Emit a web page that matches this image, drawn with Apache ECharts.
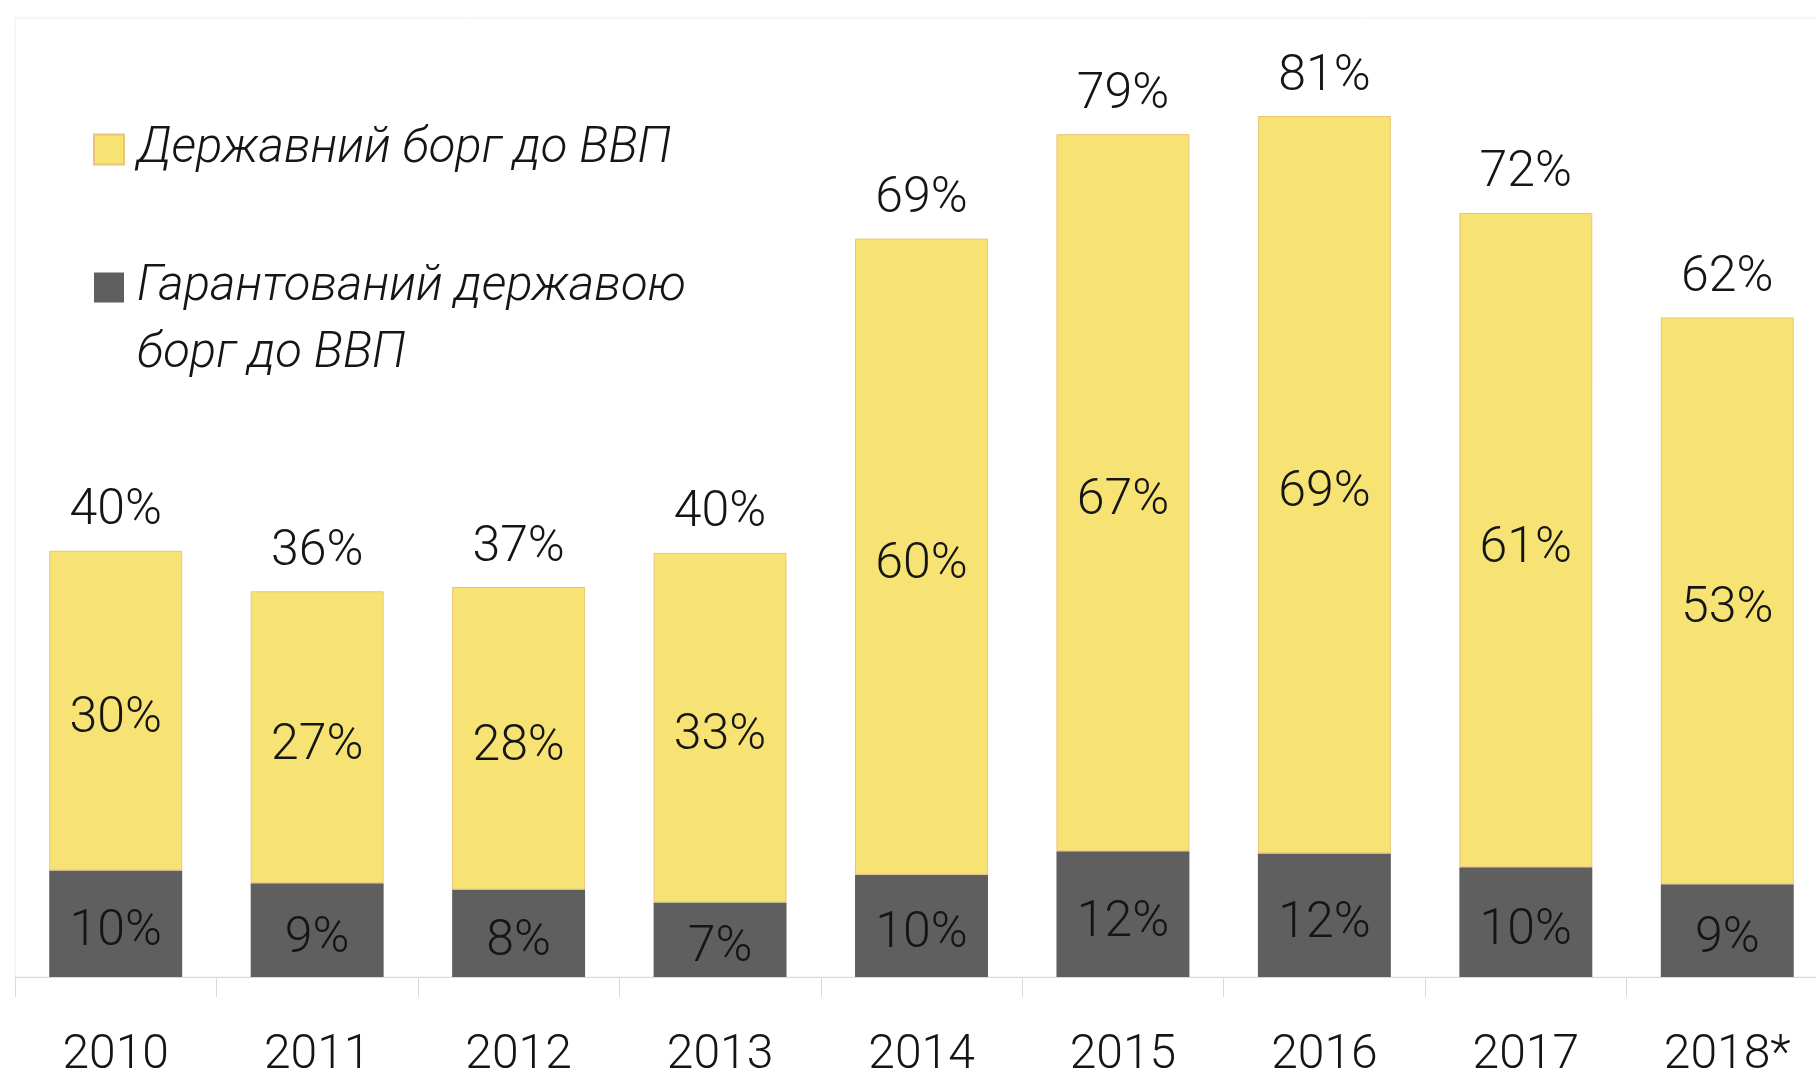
<!DOCTYPE html>
<html><head><meta charset="utf-8">
<script src="https://cdn.jsdelivr.net/npm/echarts@6/dist/echarts.min.js"></script>
<style>html,body{margin:0;padding:0;background:#fff;overflow:hidden}#c{width:1816px;height:1074px}</style>
</head><body><div id="c"></div><script>
const years = ['2010','2011','2012','2013','2014','2015','2016','2017','2018*'];
const guaranteedDebt = [10.0, 8.8, 8.2, 7.0, 9.6, 11.8, 11.6, 10.3, 8.7];
const stateDebt = [30.0, 27.4, 28.4, 32.8, 59.7, 67.3, 69.2, 61.4, 53.2];
const nameState = 'Державний борг до ВВП';
const nameGuar = 'Гарантований державою борг до ВВП';
const legendLine1 = 'Гарантований державою';
const legendLine2 = 'борг до ВВП';

const totals = years.map((_, i) => Math.round((stateDebt[i] + guaranteedDebt[i]) * 10) / 10);
const FONT = 'Roboto';
const TXT = '#151515';
const chart = echarts.init(document.getElementById('c'));
const valLabel = {show: true, position: 'inside', offset: [0, 9], fontFamily: FONT, fontWeight: 300, fontSize: 50, color: TXT,
  formatter: p => Math.round(p.value) + '%'};
chart.setOption({
  backgroundColor: '#fff',
  animation: false,
  grid: {left: 15, top: 18, width: 1813, height: 959, outerBoundsMode: 'none', containLabel: false,
    show: true, borderColor: '#eeeeee', borderWidth: 1, backgroundColor: 'transparent'},
  xAxis: {type: 'category', data: years,
    axisLine: {lineStyle: {color: '#d9d9d9', width: 1}},
    axisTick: {show: true, length: 20, lineStyle: {color: '#d9d9d9'}},
    axisLabel: {margin: 55, fontFamily: FONT, fontWeight: 300, fontSize: 48, color: TXT}},
  yAxis: {type: 'value', min: 0, max: 90, show: false, splitLine: {show: false}},
  legend: {orient: 'vertical', left: 88, top: 120, itemWidth: 30, itemHeight: 30, itemGap: 89,
    data: [nameState, nameGuar], icon: 'rect',
    formatter: n => n === nameGuar ? legendLine1 : n,
    textStyle: {fontFamily: FONT, fontStyle: 'italic', fontWeight: 300, fontSize: 49, color: TXT, lineHeight: 30, padding: [0,0,0,8]}},
  graphic: [{type: 'text', left: 137, top: 330, style: {text: legendLine2, font: 'italic 300 49px Roboto', fill: TXT}}],
  series: [
    {name: nameGuar, type: 'bar', stack: 'a', barWidth: '66%', data: guaranteedDebt,
      itemStyle: {color: '#5f5f5f'}, label: valLabel},
    {name: nameState, type: 'bar', stack: 'a', barWidth: '66%', data: stateDebt,
      itemStyle: {color: '#f6e373', borderColor: '#ebc47a', borderWidth: 1}, label: valLabel},
    {name: 'total', type: 'bar', stack: 'a', barWidth: '66%', data: totals.map(() => 0),
      itemStyle: {color: 'transparent'},
      label: {show: true, position: 'top', distance: 14, fontFamily: FONT, fontWeight: 300, fontSize: 50, color: TXT,
        formatter: p => Math.round(totals[p.dataIndex]) + '%'}}
  ]
});
</script></body></html>
